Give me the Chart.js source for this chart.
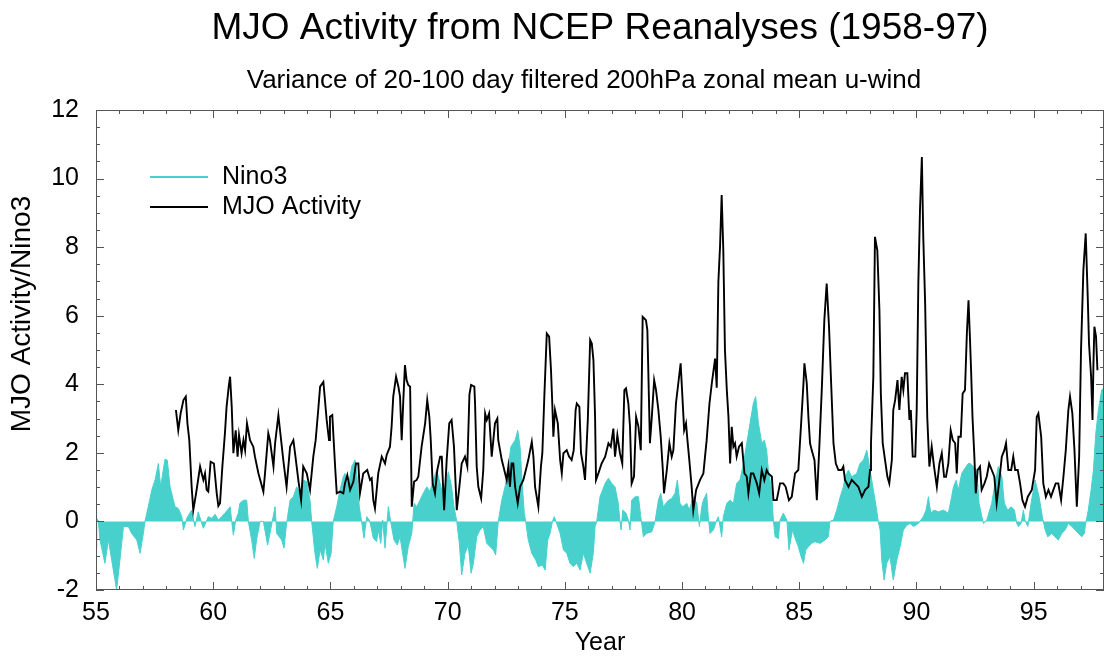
<!DOCTYPE html>
<html lang="en">
<head>
<meta charset="UTF-8">
<title>MJO Activity from NCEP Reanalyses (1958-97)</title>
<script src="https://cdn.jsdelivr.net/npm/chart.js@4"></script>
<style>
  body { margin: 0; padding: 0; background: #fff; }
  #chart { display: block; }
</style>
</head>
<body>
<canvas id="chart" width="1104" height="658"></canvas>
<script>
// ---- data ----
const titleText = 'MJO Activity from NCEP Reanalyses (1958-97)';
const subtitleText = 'Variance of 20-100 day filtered 200hPa zonal mean u-wind';
const seriesNames = ['Nino3', 'MJO Activity'];
const xTickLabels = [55, 60, 65, 70, 75, 80, 85, 90, 95];
const yTickLabels = [-2, 0, 2, 4, 6, 8, 10, 12];

const nino3Years = [
  55.0, 55.03, 55.1, 55.17, 55.38, 55.53, 55.67, 55.88, 56.02, 56.17, 56.38, 56.52, 56.74, 56.88, 57.02, 57.09,
  57.23, 57.38, 57.52, 57.66, 57.76, 57.94, 58.04, 58.16, 58.37, 58.51, 58.66, 58.73, 58.87, 59.08, 59.22, 59.36,
  59.58, 59.79, 59.94, 60.08, 60.22, 60.36, 60.5, 60.72, 60.86, 60.96, 61.07, 61.14, 61.29, 61.43, 61.5, 61.64,
  61.75, 61.85, 62.0, 62.14, 62.32, 62.42, 62.64, 62.71, 62.92, 63.02, 63.13, 63.28, 63.42, 63.56, 63.7, 63.84,
  63.99, 64.13, 64.2, 64.34, 64.44, 64.56, 64.7, 64.77, 64.91, 65.03, 65.12, 65.27, 65.41, 65.55, 65.62, 65.76,
  65.91, 66.05, 66.15, 66.23, 66.33, 66.43, 66.55, 66.66, 66.76, 66.83, 66.97, 67.04, 67.15, 67.23, 67.33, 67.47,
  67.57, 67.71, 67.85, 67.97, 68.08, 68.18, 68.32, 68.47, 68.57, 68.68, 68.82, 68.96, 69.11, 69.25, 69.36, 69.53,
  69.75, 69.89, 70.03, 70.17, 70.27, 70.39, 70.5, 70.6, 70.74, 70.88, 71.0, 71.1, 71.24, 71.38, 71.52, 71.67,
  71.81, 71.95, 72.05, 72.16, 72.31, 72.45, 72.59, 72.7, 72.88, 72.99, 73.09, 73.19, 73.27, 73.33, 73.44, 73.59,
  73.76, 73.87, 74.04, 74.16, 74.27, 74.37, 74.47, 74.55, 74.65, 74.8, 74.94, 75.08, 75.22, 75.36, 75.51, 75.65,
  75.79, 75.93, 76.08, 76.22, 76.29, 76.36, 76.5, 76.72, 76.86, 77.0, 77.14, 77.28, 77.35, 77.4, 77.47, 77.61,
  77.71, 77.78, 77.85, 77.99, 78.14, 78.24, 78.35, 78.49, 78.71, 78.85, 78.99, 79.09, 79.2, 79.42, 79.56, 79.7,
  79.8, 79.91, 80.03, 80.2, 80.31, 80.48, 80.63, 80.74, 80.84, 80.91, 81.05, 81.12, 81.19, 81.34, 81.48, 81.55,
  81.69, 81.76, 81.91, 82.05, 82.19, 82.33, 82.47, 82.62, 82.76, 82.9, 83.04, 83.14, 83.26, 83.4, 83.51, 83.61,
  83.68, 83.8, 83.9, 83.97, 84.11, 84.18, 84.32, 84.47, 84.56, 84.71, 84.85, 84.96, 85.08, 85.18, 85.28, 85.39,
  85.53, 85.67, 85.89, 86.1, 86.24, 86.31, 86.46, 86.6, 86.74, 86.88, 86.95, 87.1, 87.24, 87.45, 87.59, 87.74,
  87.88, 88.02, 88.16, 88.28, 88.37, 88.45, 88.52, 88.62, 88.73, 88.87, 89.01, 89.16, 89.3, 89.44, 89.59, 89.73,
  89.87, 90.08, 90.29, 90.41, 90.51, 90.61, 90.75, 90.94, 91.15, 91.36, 91.5, 91.58, 91.69, 91.79, 91.93, 92.07,
  92.21, 92.29, 92.43, 92.57, 92.67, 92.79, 92.86, 93.0, 93.21, 93.35, 93.49, 93.64, 93.75, 93.89, 94.04, 94.18,
  94.28, 94.35, 94.46, 94.56, 94.63, 94.75, 94.89, 95.06, 95.23, 95.37, 95.49, 95.6, 95.77, 95.91, 96.05, 96.2,
  96.34, 96.48, 96.63, 96.77, 96.91, 97.05, 97.16, 97.22, 97.33, 97.45, 97.55, 97.65, 97.76, 97.9, 98.0
];
const nino3Values = [
  -0.78, 0.09, 0.02, -0.54, -1.22, -0.54, -1.13, -2.0, -1.13, -0.15, -0.15, -0.35, -0.54, -0.93, -0.35, 0,
  0.43, 0.92, 1.21, 1.69, 1.01, 1.81, 1.79, 1.01, 0.43, 0.38, 0.14, -0.25, 0.09, 0.33, -0.15, 0.28,
  -0.2, 0.14, 0.09, 0.21, 0.04, 0.14, 0.24, 0.43, -0.4, 0.04, 0.24, 0.53, 0.62, 0.62, 0, -0.54,
  -1.08, -0.54, 0, 0, -0.69, -0.35, 0.43, -0.35, -0.54, -0.78, -0.06, 0.62, 0.72, 1.01, 0.82, 1.21,
  1.16, 0.62, 0, -0.93, -1.37, -0.83, -1.13, -0.64, -1.22, -0.93, 0, 0.43, 0.92, 1.3, 1.4, 1.01,
  1.6, 1.79, 1.21, 0.43, 0, -0.49, 0.14, 0.04, -0.25, -0.49, -0.59, -0.25, -0.64, 0.04, -0.78, 0.43,
  0, -0.54, -0.69, -0.45, -0.93, -1.37, -0.74, -0.35, 0.53, 0.43, 0.62, 0.82, 1.01, 0.87, 1.16, 1.5,
  0.92, 1.01, 1.45, 1.01, 0.43, 0, -0.64, -1.56, -0.93, -0.7, -1.51, -1.22, -0.45, -0.25, -0.15, -0.64,
  -0.74, -0.83, -0.98, 0, 0.62, 1.01, 1.6, 2.18, 2.37, 2.66, 2.18, 1.01, 0.24, 0, -0.54, -0.93,
  -1.13, -1.32, -1.27, -1.42, -0.54, -0.35, 0, 0.14, -0.06, -0.35, -0.83, -0.93, -1.22, -1.32, -1.22, -1.42,
  -0.93, -1.22, -1.51, -0.9, -0.15, 0, 0.72, 1.11, 1.26, 1.11, 1.01, 0.53, 0, -0.25, 0.33, 0.24,
  0.04, -0.25, 0.62, 0.72, 0.72, 0.14, -0.45, -0.35, -0.3, 0, 0.62, 0.82, 0.43, 0.62, 0.67, 0.82,
  1.21, 0.53, 0.43, 0.53, 0.33, 0.72, 0.53, -0.15, 0.43, 0.62, 0.82, 0.14, -0.35, -0.25, 0.04, 0.14,
  -0.45, 0.14, 0.53, 0.62, 0.53, 1.11, 1.21, 1.69, 2.28, 2.86, 3.44, 3.64, 2.86, 2.28, 2.37, 2.08,
  1.5, 1.01, 0, -0.45, -0.5, 0.04, 0.24, 0.04, -0.83, -0.25, -0.54, -0.74, -1.03, -1.22, -0.83, -0.74,
  -0.64, -0.59, -0.64, -0.54, -0.45, 0, 0.04, 0.33, 0.7, 1.0, 1.3, 1.5, 1.3, 1.4, 1.69, 1.79,
  2.08, 1.5, 0.92, 0.43, 0, -0.25, -1.13, -1.71, -1.22, -1.03, -1.71, -1.13, -0.74, -0.25, -0.11, -0.06,
  -0.15, -0.06, 0.14, 0.33, 0.72, 0.24, 0.33, 0.28, 0.33, 0.24, 0.72, 1.01, 1.2, 0.92, 1.4, 1.55,
  1.69, 1.69, 1.6, 1.5, 0.53, 0.14, -0.06, 0.04, 0.53, 1.11, 1.6, 1.31, 0.53, 0.33, 0.43, 0.33,
  -0.06, -0.15, -0.06, 0.33, 0.04, -0.15, 0.53, 1.21, 0.72, 0.14, -0.25, -0.45, -0.35, -0.45, -0.54, -0.35,
  -0.25, -0.06, -0.15, -0.25, -0.35, -0.45, -0.35, -0.06, 0.33, 0.92, 1.5, 2.57, 3.25, 3.83, 3.9
];

const mjoYears = [
  58.41, 58.51, 58.61, 58.73, 58.83, 58.9, 58.98, 59.08, 59.15, 59.27, 59.44, 59.51, 59.58, 59.65, 59.72, 59.79,
  59.89, 60.03, 60.15, 60.22, 60.29, 60.39, 60.5, 60.57, 60.67, 60.72, 60.79, 60.86, 60.96, 61.04, 61.1, 61.21,
  61.29, 61.36, 61.44, 61.57, 61.71, 61.78, 61.93, 62.14, 62.21, 62.35, 62.42, 62.57, 62.64, 62.78, 62.85, 62.99,
  63.13, 63.28, 63.42, 63.49, 63.63, 63.75, 63.84, 63.99, 64.13, 64.27, 64.37, 64.48, 64.56, 64.7, 64.84, 64.94,
  64.98, 65.08, 65.2, 65.27, 65.41, 65.55, 65.62, 65.72, 65.84, 65.98, 66.09, 66.19, 66.26, 66.4, 66.57, 66.69,
  66.76, 66.83, 66.9, 67.04, 67.19, 67.33, 67.4, 67.54, 67.61, 67.68, 67.8, 67.9, 67.97, 68.04, 68.11, 68.18,
  68.25, 68.32, 68.4, 68.47, 68.57, 68.68, 68.75, 68.89, 69.04, 69.13, 69.22, 69.28, 69.36, 69.46, 69.56, 69.68,
  69.75, 69.85, 69.96, 70.07, 70.17, 70.27, 70.39, 70.5, 70.6, 70.74, 70.84, 70.93, 71.0, 71.14, 71.17, 71.24,
  71.31, 71.43, 71.52, 71.6, 71.67, 71.77, 71.81, 71.88, 71.95, 72.02, 72.12, 72.16, 72.31, 72.38, 72.52, 72.59,
  72.66, 72.73, 72.8, 72.88, 72.99, 73.09, 73.23, 73.3, 73.44, 73.59, 73.66, 73.73, 73.87, 73.98, 74.04, 74.13,
  74.23, 74.33, 74.41, 74.47, 74.51, 74.58, 74.7, 74.8, 74.87, 74.94, 75.08, 75.18, 75.29, 75.38, 75.46, 75.51,
  75.62, 75.69, 75.79, 75.86, 75.98, 76.08, 76.15, 76.22, 76.29, 76.33, 76.43, 76.57, 76.72, 76.86, 76.96, 77.07,
  77.14, 77.24, 77.35, 77.45, 77.54, 77.61, 77.71, 77.78, 77.85, 77.95, 78.04, 78.14, 78.24, 78.32, 78.46, 78.52,
  78.56, 78.63, 78.71, 78.81, 78.89, 78.99, 79.09, 79.18, 79.23, 79.35, 79.46, 79.56, 79.63, 79.74, 79.84, 79.94,
  80.0, 80.09, 80.17, 80.23, 80.31, 80.41, 80.48, 80.6, 80.77, 80.91, 80.98, 81.05, 81.17, 81.27, 81.41, 81.48,
  81.55, 81.62, 81.69, 81.76, 81.83, 81.91, 81.98, 82.05, 82.12, 82.19, 82.26, 82.33, 82.43, 82.55, 82.66, 82.76,
  82.83, 82.94, 83.04, 83.19, 83.29, 83.4, 83.51, 83.61, 83.68, 83.83, 83.9, 84.04, 84.18, 84.32, 84.42, 84.56,
  84.68, 84.82, 84.96, 85.08, 85.18, 85.22, 85.32, 85.39, 85.46, 85.53, 85.65, 85.75, 85.85, 85.96, 86.07, 86.17,
  86.27, 86.36, 86.46, 86.56, 86.67, 86.81, 86.88, 86.95, 87.1, 87.24, 87.38, 87.52, 87.67, 87.81, 87.95, 88.02,
  88.06, 88.16, 88.23, 88.33, 88.42, 88.48, 88.56, 88.66, 88.76, 88.84, 88.95, 89.01, 89.09, 89.19, 89.27, 89.37,
  89.44, 89.51, 89.61, 89.7, 89.76, 89.84, 89.95, 90.01, 90.08, 90.15, 90.23, 90.29, 90.37, 90.46, 90.55, 90.65,
  90.75, 90.87, 90.98, 91.08, 91.18, 91.26, 91.36, 91.46, 91.55, 91.65, 91.72, 91.79, 91.89, 91.97, 92.07, 92.15,
  92.22, 92.29, 92.33, 92.39, 92.47, 92.53, 92.61, 92.71, 92.78, 92.9, 93.0, 93.1, 93.21, 93.32, 93.42, 93.52,
  93.64, 93.75, 93.82, 93.92, 94.04, 94.13, 94.21, 94.32, 94.42, 94.52, 94.63, 94.75, 94.92, 95.06, 95.13, 95.2,
  95.32, 95.41, 95.52, 95.63, 95.74, 95.84, 95.94, 96.05, 96.17, 96.27, 96.37, 96.48, 96.55, 96.65, 96.74, 96.84,
  96.94, 97.02, 97.12, 97.22, 97.31, 97.36, 97.45, 97.51, 97.55, 97.59, 97.66, 97.72
];
const mjoValues = [
  3.25, 2.66, 3.15, 3.54, 3.64, 2.86, 2.37, 1.01, 0.33, 0.82, 1.6, 1.4, 1.21, 1.4, 0.92, 0.87,
  1.74, 1.69, 0.82, 0.45, 0.53, 1.6, 2.57, 3.34, 3.98, 4.22, 3.34, 1.99, 2.66, 1.89, 2.52, 1.99,
  2.37, 2.08, 2.86, 2.37, 2.18, 1.89, 1.4, 0.87, 1.4, 2.57, 2.37, 1.6, 2.28, 3.1, 2.66, 1.79,
  1.01, 2.18, 2.37, 1.99, 1.21, 0.62, 1.6, 1.4, 0.92, 1.89, 2.37, 3.25, 3.93, 4.07, 2.96, 2.37,
  3.05, 3.1, 1.6, 0.82, 0.87, 0.82, 1.11, 1.35, 0.92, 1.16, 1.69, 1.69, 0.82, 1.4, 1.5, 1.21,
  1.26, 0.62, 0.38, 1.4, 1.89, 1.69, 1.94, 2.18, 2.76, 3.64, 4.22, 3.93, 3.64, 2.37, 3.54, 4.56,
  4.12, 3.98, 3.93, 0.43, 1.16, 1.21, 1.31, 2.18, 2.86, 3.54, 3.05, 2.37, 1.11, 0.82, 1.5, 1.89,
  1.89, 0.33, 1.79, 2.86, 2.96, 2.18, 0.33, 1.01, 1.69, 1.89, 1.6, 3.7, 3.98, 3.93, 3.44, 1.6,
  1.01, 0.67, 1.5, 3.15, 2.96, 3.15, 2.66, 1.89, 2.37, 2.86, 3.0, 2.37, 1.79, 1.6, 1.21, 1.6,
  1.01, 1.69, 1.69, 1.01, 0.53, 1.01, 1.21, 1.4, 1.79, 2.32, 1.89, 1.01, 0.43, 1.6, 1.99, 3.73,
  5.48, 5.39, 4.41, 3.34, 2.47, 3.25, 2.86, 1.79, 1.4, 1.99, 2.08, 1.89, 1.79, 2.08, 3.25, 3.44,
  3.34, 1.99, 1.6, 1.21, 2.96, 5.29, 5.19, 4.7, 3.05, 1.21, 1.4, 1.69, 1.89, 2.28, 2.18, 2.71,
  1.89, 2.52, 1.99, 1.69, 3.83, 3.88, 3.44, 2.76, 1.11, 1.31, 3.05, 2.76, 2.08, 5.97, 5.87, 5.58,
  4.41, 2.28, 3.05, 4.12, 3.83, 3.25, 2.47, 1.5, 0.82, 1.5, 2.28, 1.89, 2.08, 3.44, 4.03, 4.61,
  3.83, 2.66, 2.86, 2.37, 1.79, 1.01, 0.33, 0.92, 1.21, 1.4, 1.89, 2.37, 3.44, 4.03, 4.75, 3.9,
  7.0, 8.01, 9.52, 7.91, 5.0, 3.83, 3.05, 1.69, 2.76, 2.18, 2.28, 1.89, 2.18, 2.28, 1.4, 1.31,
  0.82, 1.4, 1.4, 1.11, 0.82, 1.5, 1.2, 1.5, 1.4, 1.31, 0.62, 0.62, 1.11, 1.11, 1.01, 0.62,
  0.72, 1.4, 1.5, 2.86, 4.03, 4.61, 4.03, 3.05, 2.28, 2.08, 1.79, 0.62, 2.08, 3.83, 5.87, 6.94,
  5.68, 4.03, 2.28, 1.69, 1.5, 1.5, 1.6, 1.21, 1.01, 1.21, 1.11, 1.01, 0.72, 0.92, 1.01, 1.5,
  2.28, 4.22, 8.3, 7.91, 6.16, 3.73, 2.28, 1.79, 1.3, 1.11, 1.79, 3.25, 3.54, 4.12, 3.25, 4.22,
  3.83, 4.32, 4.32, 2.96, 3.25, 1.89, 1.89, 3.25, 6.94, 9.08, 10.63, 8.3, 6.36, 3.05, 1.6, 2.18,
  1.6, 1.01, 1.69, 1.99, 1.3, 1.3, 1.69, 2.66, 2.37, 2.28, 1.4, 2.47, 2.47, 3.73, 3.83, 5.48,
  6.45, 5.19, 4.41, 3.05, 1.89, 0.82, 1.5, 1.6, 0.92, 1.11, 1.31, 1.69, 1.5, 1.31, 0.53, 1.11,
  1.89, 2.08, 2.28, 1.5, 1.5, 1.89, 1.5, 1.5, 1.11, 0.62, 0.43, 0.72, 0.92, 1.5, 3.05, 3.15,
  2.47, 1.11, 0.72, 0.92, 0.72, 0.92, 1.11, 1.11, 0.62, 1.31, 2.08, 3.25, 3.64, 3.15, 2.08, 0.43,
  1.89, 5.0, 7.33, 8.4, 6.45, 5.19, 4.22, 2.96, 4.61, 5.68, 5.39, 4.41
];

const teal = '#48d1cc';
const fontFamily = '"Liberation Sans", Arial, Helvetica, sans-serif';

// frame with inward ticks, titles and legend drawn on top of the chart
const decorations = {
  id: 'decorations',
  afterDraw(chart) {
    const { ctx, chartArea: a, scales: { x, y } } = chart;
    ctx.save();
    ctx.strokeStyle = '#555';
    ctx.lineWidth = 1;
    ctx.strokeRect(a.left + 0.5, a.top + 0.5, a.right - a.left - 1, a.bottom - a.top - 1);
    ctx.beginPath();
    for (let v = x.min; v <= x.max; v += 1) {
      const px = Math.round(x.getPixelForValue(v)) + 0.5;
      const len = v % 5 === 0 ? 8 : 4;
      ctx.moveTo(px, a.bottom); ctx.lineTo(px, a.bottom - len);
      ctx.moveTo(px, a.top); ctx.lineTo(px, a.top + len);
    }
    for (let v = y.min; v <= y.max; v += 0.5) {
      const py = Math.round(y.getPixelForValue(v)) + 0.5;
      const len = v % 2 === 0 ? 8 : 4;
      ctx.moveTo(a.left, py); ctx.lineTo(a.left + len, py);
      ctx.moveTo(a.right, py); ctx.lineTo(a.right - len, py);
    }
    ctx.stroke();

    ctx.fillStyle = '#000';
    ctx.textAlign = 'center';
    ctx.textBaseline = 'alphabetic';
    ctx.font = '37px ' + fontFamily;
    ctx.fillText(titleText, 600, 39);
    ctx.font = '26px ' + fontFamily;
    ctx.fillText(subtitleText, 584, 88);
    ctx.font = '25px ' + fontFamily;
    ctx.textBaseline = 'middle';
    ctx.fillText('Year', 600, 643);
    ctx.save();
    ctx.translate(22, 314);
    ctx.rotate(-Math.PI / 2);
    ctx.font = '28px ' + fontFamily;
    ctx.fillText('MJO Activity/Nino3', 0, 0);
    ctx.restore();

    // legend
    const rows = [[seriesNames[0], teal, 177], [seriesNames[1], '#000', 207]];
    ctx.textAlign = 'left';
    ctx.font = '25px ' + fontFamily;
    rows.forEach(([name, color, ly]) => {
      ctx.strokeStyle = color;
      ctx.lineWidth = 2;
      ctx.beginPath();
      ctx.moveTo(150, ly); ctx.lineTo(208, ly);
      ctx.stroke();
      ctx.fillText(name, 222, ly);
    });
    ctx.restore();
  }
};

new Chart(document.getElementById('chart'), {
  type: 'line',
  data: {
    datasets: [
      {
        label: seriesNames[1],
        data: mjoYears.map((yr, i) => ({ x: yr, y: mjoValues[i] })),
        borderColor: '#000',
        borderWidth: 1.9,
        pointRadius: 0,
        fill: false,
        tension: 0
      },
      {
        label: seriesNames[0],
        data: nino3Years.map((yr, i) => ({ x: yr, y: nino3Values[i] })),
        borderColor: teal,
        backgroundColor: teal,
        borderWidth: 1,
        pointRadius: 0,
        fill: 'origin',
        tension: 0
      }
    ]
  },
  options: {
    responsive: false,
    animation: false,
    layout: { padding: { top: 110, left: 0, right: 0, bottom: 0 } },
    plugins: { legend: { display: false }, tooltip: { enabled: false } },
    scales: {
      x: {
        type: 'linear', min: 55, max: 98,
        afterBuildTicks: s => { s.ticks = xTickLabels.map(v => ({ value: v })); },
        afterFit: s => { s.height = 68; },
        grid: { display: false, drawTicks: false },
        border: { display: false },
        ticks: { font: { family: fontFamily, size: 25 }, color: '#000', padding: 8, maxRotation: 0, autoSkip: false }
      },
      y: {
        type: 'linear', min: -2, max: 12,
        afterBuildTicks: s => { s.ticks = yTickLabels.map(v => ({ value: v })); },
        afterFit: s => { s.width = 96; },
        grid: { display: false, drawTicks: false },
        border: { display: false },
        ticks: { font: { family: fontFamily, size: 25 }, color: '#000', padding: 17 }
      }
    }
  },
  plugins: [decorations]
});
</script>
</body>
</html>
